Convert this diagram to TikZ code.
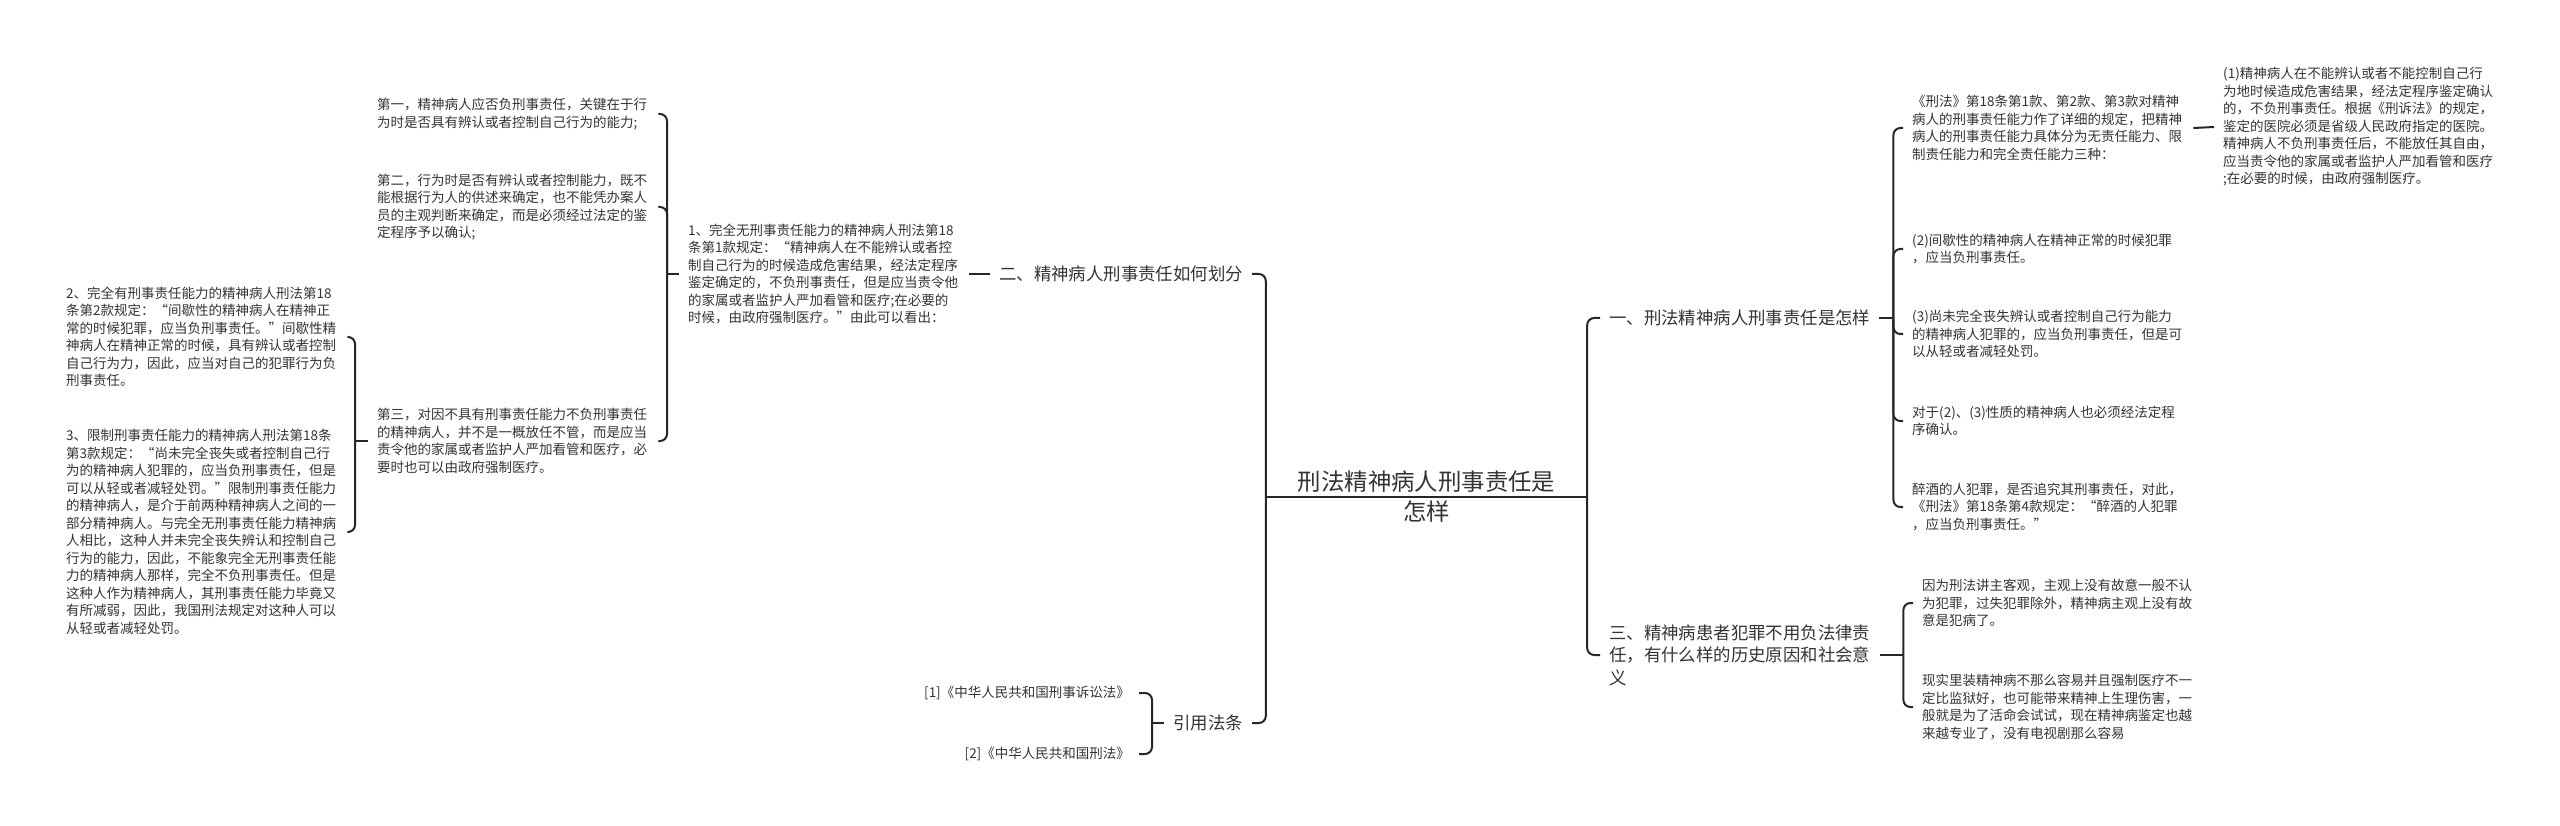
\documentclass[tikz,border=0pt]{standalone}
\usepackage{fontspec}
\newfontfamily\cjk{Noto Sans CJK SC}
\definecolor{txt}{HTML}{333333}
\definecolor{lc}{HTML}{262626}
\tikzset{
  small/.style={font=\cjk\fontsize{13.5}{17.5}\selectfont, text=txt, inner xsep=9pt, inner ysep=0pt, align=left, text width=272pt},
  mid/.style={font=\cjk\fontsize{17.4}{22.5}\selectfont, text=txt, inner xsep=9pt, inner ysep=0pt, align=left},
  rootst/.style={font=\cjk\fontsize{23.4}{30}\selectfont, text=txt, inner sep=0pt, align=center, minimum width=321pt},
  conn/.style={draw=lc, line width=2pt, rounded corners=7pt},
}
\begin{document}
\begin{tikzpicture}[x=1pt,y=-1pt]
\useasboundingbox (0,0) rectangle (2560,826);

% root
\node[rootst] (root) at (1426.5,497) {刑法精神病人刑事责任是\\怎样};

% left side
\node[mid, anchor=east] (L1) at (1252,274) {二、精神病人刑事责任如何划分};
\node[mid, anchor=east] (L2) at (1252,723) {引用法条};
\node[small, anchor=west] (n1) at (679,274) {1、完全无刑事责任能力的精神病人刑法第18\\条第1款规定：“精神病人在不能辨认或者控\\制自己行为的时候造成危害结果，经法定程序\\鉴定确定的，不负刑事责任，但是应当责令他\\的家属或者监护人严加看管和医疗;在必要的\\时候，由政府强制医疗。”由此可以看出：};
\node[small, anchor=west] (n1a) at (368,114) {第一，精神病人应否负刑事责任，关键在于行\\为时是否具有辨认或者控制自己行为的能力;};
\node[small, anchor=west] (n1b) at (368,207) {第二，行为时是否有辨认或者控制能力，既不\\能根据行为人的供述来确定，也不能凭办案人\\员的主观判断来确定，而是必须经过法定的鉴\\定程序予以确认;};
\node[small, anchor=west] (n1c) at (368,441) {第三，对因不具有刑事责任能力不负刑事责任\\的精神病人，并不是一概放任不管，而是应当\\责令他的家属或者监护人严加看管和医疗，必\\要时也可以由政府强制医疗。};
\node[small, anchor=west] (n2) at (57,337) {2、完全有刑事责任能力的精神病人刑法第18\\条第2款规定：“间歇性的精神病人在精神正\\常的时候犯罪，应当负刑事责任。”间歇性精\\神病人在精神正常的时候，具有辨认或者控制\\自己行为力，因此，应当对自己的犯罪行为负\\刑事责任。};
\node[small, anchor=west] (n3) at (57,532) {3、限制刑事责任能力的精神病人刑法第18条\\第3款规定：“尚未完全丧失或者控制自己行\\为的精神病人犯罪的，应当负刑事责任，但是\\可以从轻或者减轻处罚。”限制刑事责任能力\\的精神病人，是介于前两种精神病人之间的一\\部分精神病人。与完全无刑事责任能力精神病\\人相比，这种人并未完全丧失辨认和控制自己\\行为的能力，因此，不能象完全无刑事责任能\\力的精神病人那样，完全不负刑事责任。但是\\这种人作为精神病人，其刑事责任能力毕竟又\\有所减弱，因此，我国刑法规定对这种人可以\\从轻或者减轻处罚。};
\node[small, text width=, anchor=east] (r1) at (1139,693) {[1]《中华人民共和国刑事诉讼法》};
\node[small, text width=, anchor=east] (r2) at (1139,754) {[2]《中华人民共和国刑法》};

% right side
\node[mid, anchor=west] (R1) at (1600,318) {一、刑法精神病人刑事责任是怎样};
\node[mid, anchor=west, text width=262pt] (R3) at (1600,655) {三、精神病患者犯罪不用负法律责\\任，有什么样的历史原因和社会意\\义};
\node[small, anchor=west] (c1) at (1903,128) {《刑法》第18条第1款、第2款、第3款对精神\\病人的刑事责任能力作了详细的规定，把精神\\病人的刑事责任能力具体分为无责任能力、限\\制责任能力和完全责任能力三种：};
\node[small, anchor=west] (c1a) at (2214,127) {(1)精神病人在不能辨认或者不能控制自己行\\为地时候造成危害结果，经法定程序鉴定确认\\的，不负刑事责任。根据《刑诉法》的规定，\\鉴定的医院必须是省级人民政府指定的医院。\\精神病人不负刑事责任后，不能放任其自由，\\应当责令他的家属或者监护人严加看管和医疗\\;在必要的时候，由政府强制医疗。};
\node[small, anchor=west] (c2) at (1903,249) {(2)间歇性的精神病人在精神正常的时候犯罪\\，应当负刑事责任。};
\node[small, anchor=west] (c3) at (1903,334) {(3)尚未完全丧失辨认或者控制自己行为能力\\的精神病人犯罪的，应当负刑事责任，但是可\\以从轻或者减轻处罚。};
\node[small, anchor=west] (c4) at (1903,421) {对于(2)、(3)性质的精神病人也必须经法定程\\序确认。};
\node[small, anchor=west] (c5) at (1903,507) {醉酒的人犯罪，是否追究其刑事责任，对此，\\《刑法》第18条第4款规定：“醉酒的人犯罪\\，应当负刑事责任。”};
\node[small, anchor=west] (d1) at (1913,603) {因为刑法讲主客观，主观上没有故意一般不认\\为犯罪，过失犯罪除外，精神病主观上没有故\\意是犯病了。};
\node[small, anchor=west] (d2) at (1913,707) {现实里装精神病不那么容易并且强制医疗不一\\定比监狱好，也可能带来精神上生理伤害，一\\般就是为了活命会试试，现在精神病鉴定也越\\来越专业了，没有电视剧那么容易};

% connectors
\draw[conn] (root.west) -- (root.east);
\draw[conn] (root.west) |- (L1.east);
\draw[conn] (root.west) |- (L2.east);
\draw[conn] (root.east) |- (R1.west);
\draw[conn] (root.east) |- (R3.west);

\draw[conn] (L1.west) -- (n1.east);
\draw[conn] (n1.west) -- ++(-12,0) coordinate (b1);
\draw[conn] (b1) |- (n1a.east);
\draw[conn] (b1) |- (n1b.east);
\draw[conn] (b1) |- (n1c.east);
\draw[conn] (n1c.west) -- ++(-13,0) coordinate (b2);
\draw[conn] (b2) |- (n2.east);
\draw[conn] (b2) |- (n3.east);

\draw[conn] (L2.west) -- ++(-12,0) coordinate (b3);
\draw[conn] (b3) |- (r1.east);
\draw[conn] (b3) |- (r2.east);

\draw[conn] (R1.east) -- ++(14,0) coordinate (b4);
\draw[conn] (b4) |- (c1.west);
\draw[conn] (b4) |- (c2.west);
\draw[conn] (b4) |- (c3.west);
\draw[conn] (b4) |- (c4.west);
\draw[conn] (b4) |- (c5.west);
\draw[conn] (c1.east) -- (c1a.west);

\draw[conn] (R3.east) -- ++(23,0) coordinate (b5);
\draw[conn] (b5) |- (d1.west);
\draw[conn] (b5) |- (d2.west);
\end{tikzpicture}
\end{document}
